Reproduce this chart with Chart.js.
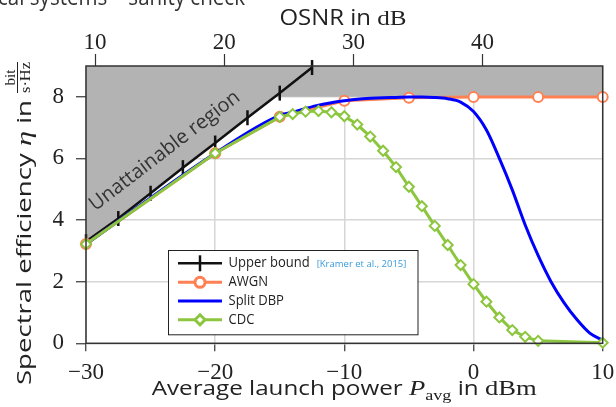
<!DOCTYPE html>
<html><head><meta charset="utf-8">
<script src="https://cdn.jsdelivr.net/npm/chart.js@4.4.1/dist/chart.umd.min.js"></script>
<style>html,body{margin:0;padding:0;background:#fff;overflow:hidden}canvas{display:block}</style>
</head><body>
<canvas id="c" width="616" height="407"></canvas>
<script>
// ---- tick labels / axis settings ----
const xTicks = [-30, -20, -10, 0, 10];
const yTicks = [0, 2, 4, 6, 8];
const osnrTicks = [10, 20, 30, 40];
const osnrOffset = 39.3;   // OSNR in dB = launch power in dBm + offset
const regionCap = 8;       // spectral efficiency cap of the unattainable region

// ---- series ----
const ubPower = [-30, -27.5, -25, -22.5, -20, -17.5, -15, -12.5];
const ubEta   = [3.3, 4.05, 4.87, 5.7, 6.5, 7.32, 8.12, 8.95];

const awgnPower = [-30, -20, -15, -10, -5, 0, 5, 10];
const awgnEta   = [3.22, 6.17, 7.35, 7.87, 7.97, 7.99, 7.99, 7.99];

const dbpPower = [-30, -20, -15, -14, -13, -12, -11, -10, -9, -8, -7, -6, -5, -4, -3, -2, -1, 0, 1, 2, 3, 4, 5, 6, 7, 8, 9, 10];
const dbpEta   = [3.22, 6.17, 7.4, 7.5, 7.62, 7.73, 7.81, 7.87, 7.92, 7.95, 7.97, 7.98, 7.99, 7.99, 7.98, 7.94, 7.83, 7.52, 6.92, 6.0, 4.98, 3.84, 2.85, 2.0, 1.32, 0.77, 0.33, 0.1];

const cdcPower = [-30, -20, -15, -14, -13, -12, -11, -10, -9, -8, -7, -6, -5, -4, -3, -2, -1, 0, 1, 2, 3, 4, 5, 10];
const cdcEta   = [3.22, 6.17, 7.35, 7.44, 7.52, 7.54, 7.5, 7.37, 7.1, 6.71, 6.25, 5.72, 5.08, 4.45, 3.81, 3.19, 2.54, 1.92, 1.35, 0.84, 0.43, 0.21, 0.08, 0.02];

const legendLabels = ['Upper bound', 'AWGN', 'Split DBP', 'CDC'];
const citation = '[Kramer et al., 2015]';

const SANS = 'Open Sans';
const SERIF = 'Liberation Serif';

const pts = (xs, ys) => xs.map((x, i) => ({x: x, y: ys[i]}));

function regionBoundary() {
  const out = [];
  for (let i = 0; i < ubPower.length; i++) {
    if (ubEta[i] <= regionCap) out.push({x: ubPower[i], y: ubEta[i]});
    else {
      const x0 = ubPower[i - 1], y0 = ubEta[i - 1];
      const t = (regionCap - y0) / (ubEta[i] - y0);
      out.push({x: x0 + t * (ubPower[i] - x0), y: regionCap});
      break;
    }
  }
  out.push({x: xTicks[xTicks.length - 1], y: regionCap});
  return out;
}

const minus = v => String(v).replace('-', '\u2212');

function drawRich(ctx, segs, x, y, align, target) {
  let w = 0;
  segs.forEach(s => { ctx.font = s.font; s.w = ctx.measureText(s.text).width; w += s.w; });
  const sx = target ? target / w : 1;
  ctx.save();
  ctx.translate(x, y);
  ctx.scale(sx, 1);
  let cx = align === 'center' ? -w / 2 : (align === 'right' ? -w : 0);
  ctx.textAlign = 'left';
  ctx.textBaseline = 'alphabetic';
  segs.forEach(s => { ctx.font = s.font; ctx.fillText(s.text, cx, s.dy || 0); cx += s.w; });
  ctx.restore();
  return w * sx;
}

const decor = {
  id: 'decor',
  afterDatasetsDraw(chart) {
    const ctx = chart.ctx, a = chart.chartArea;
    ctx.save();
    ctx.strokeStyle = '#333';
    ctx.lineWidth = 1.5;
    ctx.strokeRect(a.left, a.top, a.right - a.left, a.bottom - a.top);
    ctx.restore();
  },
  afterDraw(chart) {
    const ctx = chart.ctx;
    ctx.save();
    // clipped slide heading (only its lower edge is visible)
    ctx.font = '24px ' + SANS;
    const headVisible = 'cal systems \u2013 sanity check';
    const hs = 247 / ctx.measureText(headVisible).width;
    ctx.save();
    ctx.translate(245, 5);
    ctx.scale(hs, 1);
    ctx.fillStyle = '#333';
    ctx.textAlign = 'right';
    ctx.textBaseline = 'alphabetic';
    ctx.fillText('Opti' + headVisible, 0, 0);
    ctx.restore();

    ctx.fillStyle = '#222';
    // top axis title
    drawRich(ctx, [
      {text: 'OSNR in ', font: '21px ' + SANS},
      {text: 'dB', font: '22px ' + SERIF}
    ], 343, 24.5, 'center', 127);
    // bottom axis title
    drawRich(ctx, [
      {text: 'Average launch power ', font: '20px ' + SANS},
      {text: 'P', font: 'italic 22px ' + SERIF},
      {text: 'avg', font: '15px ' + SERIF, dy: 5},
      {text: ' in ', font: '20px ' + SANS},
      {text: 'dBm', font: '22px ' + SERIF}
    ], 151.7, 395, 'left', 385);
    // y axis title (rotated)
    ctx.save();
    ctx.translate(31, 385);
    ctx.rotate(-Math.PI / 2);
    drawRich(ctx, [
      {text: 'Spectral efficiency ', font: '20px ' + SANS},
      {text: '\u03b7', font: 'italic 22px ' + SERIF},
      {text: ' in', font: '20px ' + SANS}
    ], 0, 0, 'left', 285);
    // fraction bit / s·Hz
    const fx = 292, fw = 31;
    ctx.font = '15px ' + SERIF;
    ctx.textAlign = 'center';
    ctx.textBaseline = 'alphabetic';
    ctx.fillText('bit', fx + fw / 2, -16);
    ctx.save();
    ctx.translate(fx + fw / 2, -1.5);
    const dw = ctx.measureText('s\u00b7Hz').width;
    ctx.scale(fw / dw, 1);
    ctx.fillText('s\u00b7Hz', 0, 0);
    ctx.restore();
    ctx.fillRect(fx, -14, fw, 1);
    ctx.restore();

    // "Unattainable region"
    ctx.save();
    ctx.translate(164, 150);
    ctx.rotate(-37.5 * Math.PI / 180);
    ctx.fillStyle = '#333';
    drawRich(ctx, [{text: 'Unattainable region', font: '20px ' + SANS}], 0, 7, 'center', 184);
    ctx.restore();

    // legend
    const bx = 168, by = 250, bw = 249.5, bh = 84.3;
    ctx.fillStyle = '#fff';
    ctx.fillRect(bx, by, bw, bh);
    ctx.strokeStyle = '#222';
    ctx.lineWidth = 1;
    ctx.strokeRect(bx + 0.5, by + 0.5, bw, bh);
    const rows = [263.3, 282.3, 301, 319.8];
    const dsIdx = [1, 2, 3, 4];
    dsIdx.forEach((di, r) => {
      const ds = chart.data.datasets[di];
      const y = rows[r];
      ctx.strokeStyle = ds.borderColor;
      ctx.lineWidth = ds.borderWidth;
      ctx.beginPath(); ctx.moveTo(178, y); ctx.lineTo(222, y); ctx.stroke();
      if (ds.pointRadius > 0) {
        ctx.strokeStyle = ds.pointBorderColor || ds.borderColor;
        ctx.fillStyle = ds.pointBackgroundColor || ds.borderColor;
        Chart.helpers.drawPoint(ctx, {
          pointStyle: ds.pointStyle, rotation: ds.pointRotation || 0,
          radius: ds.pointStyle === 'line' ? 8 : ds.pointRadius, borderWidth: ds.pointBorderWidth
        }, 200, y);
      }
      ctx.fillStyle = '#222';
      ctx.save();
      ctx.translate(228.5, y);
      ctx.scale(0.93, 1);
      ctx.font = '14px ' + SANS;
      ctx.textAlign = 'left';
      ctx.textBaseline = 'middle';
      ctx.fillText(legendLabels[r], 0, 0);
      ctx.restore();
    });
    ctx.fillStyle = '#3a9bdc';
    ctx.font = '9.5px ' + SANS;
    ctx.textAlign = 'left';
    ctx.textBaseline = 'middle';
    ctx.fillText(citation, 316.7, rows[0] + 0.5);
    ctx.restore();
  }
};

const serifTick = {family: SERIF, size: 23};
const fitX = h => s => { s.height = h; s.paddingLeft = 0; s.paddingRight = 0; };

new Chart(document.getElementById('c'), {
  type: 'line',
  data: {
    datasets: [
      {label: 'region', data: regionBoundary(), fill: 'end', backgroundColor: '#b3b3b3',
       borderWidth: 0, pointRadius: 0, tension: 0, order: 10},
      {label: legendLabels[0], data: pts(ubPower, ubEta), borderColor: '#111', borderWidth: 2.5,
       pointStyle: 'line', pointRotation: 90, pointRadius: 7.5, pointBorderWidth: 2.5,
       pointBorderColor: '#111', pointBackgroundColor: '#111', fill: false, order: 4, clip: false},
      {label: legendLabels[1], data: pts(awgnPower, awgnEta), borderColor: '#ff8052', borderWidth: 3,
       pointStyle: 'circle', pointRadius: 5, pointBorderWidth: 2, pointBorderColor: '#ff8052',
       pointBackgroundColor: '#ffffff', fill: false, order: 3, clip: false},
      {label: legendLabels[2], data: pts(dbpPower, dbpEta), borderColor: '#0000ff', borderWidth: 3,
       pointRadius: 0, cubicInterpolationMode: 'monotone', fill: false, order: 2, clip: false},
      {label: legendLabels[3], data: pts(cdcPower, cdcEta), borderColor: '#8cc63f', borderWidth: 3,
       pointStyle: 'rectRot', pointRadius: 5, pointBorderWidth: 2, pointBorderColor: '#8cc63f',
       pointBackgroundColor: '#ffffff', fill: false, order: 1, clip: false}
    ]
  },
  options: {
    responsive: false,
    animation: false,
    layout: {padding: {left: 0, right: 13.3, top: 0, bottom: 0}},
    plugins: {legend: {display: false}, tooltip: {enabled: false}, title: {display: false}},
    scales: {
      x: {
        type: 'linear', position: 'bottom', min: xTicks[0], max: xTicks[xTicks.length - 1],
        afterBuildTicks: s => { s.ticks = xTicks.map(v => ({value: v})); },
        afterFit: fitX(63.7),
        ticks: {font: serifTick, color: '#222', padding: 8, maxRotation: 0, autoSkip: false, callback: v => minus(v)},
        grid: {color: '#d6d6d6', lineWidth: 1.5, tickColor: '#333', tickLength: 8, tickWidth: 1.2},
        border: {display: false}
      },
      x2: {
        type: 'linear', position: 'top', min: xTicks[0] + osnrOffset, max: xTicks[xTicks.length - 1] + osnrOffset,
        afterBuildTicks: s => { s.ticks = osnrTicks.map(v => ({value: v})); },
        afterFit: fitX(66),
        ticks: {font: serifTick, color: '#222', padding: -3, maxRotation: 0, autoSkip: false},
        grid: {drawOnChartArea: false, tickColor: '#333', tickLength: 12, tickWidth: 1.2},
        border: {display: false}
      },
      y: {
        type: 'linear', position: 'left', min: 0, max: 9,
        afterBuildTicks: s => { s.ticks = yTicks.map(v => ({value: v})); },
        afterFit: s => { s.width = 86; s.paddingTop = 0; s.paddingBottom = 0; },
        ticks: {font: serifTick, color: '#222', padding: 12, autoSkip: false},
        grid: {color: '#d6d6d6', lineWidth: 1.5, tickColor: '#333', tickLength: 10, tickWidth: 1.2},
        border: {display: false}
      }
    }
  },
  plugins: [decor]
});
</script>
</body></html>
